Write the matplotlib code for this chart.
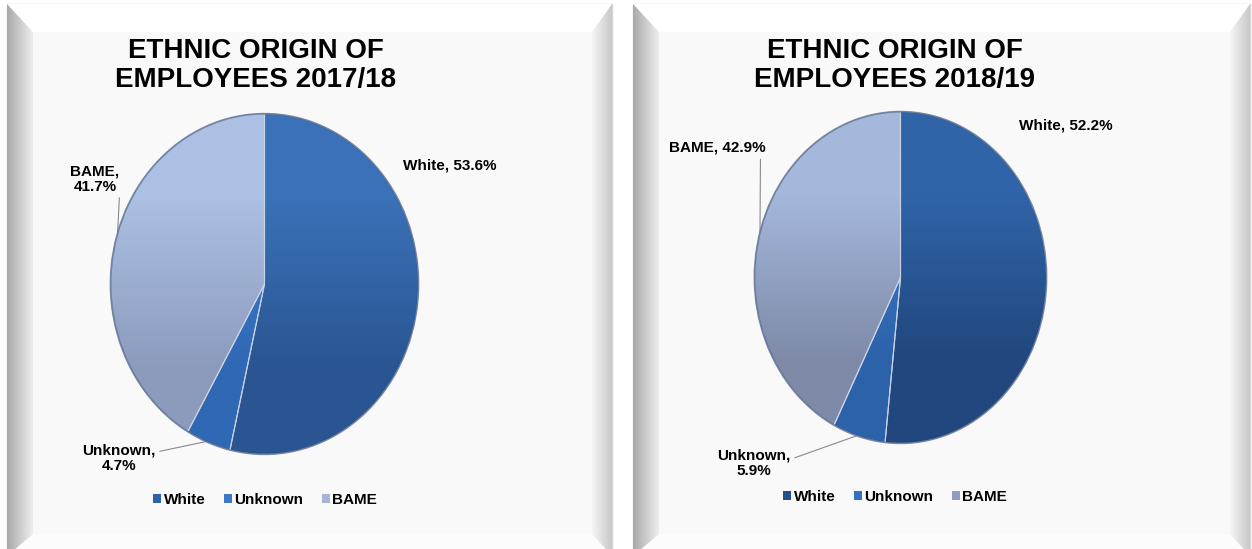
import numpy as np
import matplotlib
matplotlib.use("Agg")
import matplotlib.pyplot as plt
from matplotlib.patches import Polygon, Rectangle, Circle, Patch
from matplotlib.colors import to_rgb

plt.rcParams['font.family'] = ['Liberation Sans', 'DejaVu Sans']

# data
categories = ["White", "Unknown", "BAME"]
years = ["2017/18", "2018/19"]
share_1718 = [53.6, 4.7, 41.7]
share_1819 = [52.2, 5.9, 42.9]

# slice gradients (top colour, bottom colour) per year
grad_1718 = [("#3b71b8", "#2a5592"), ("#3f7fd0", "#2f68b4"), ("#acc0e4", "#8c9bbc")]
grad_1819 = [("#3064a8", "#21477e"), ("#3a7bca", "#2c62aa"), ("#a5b8dc", "#7e8aa8")]
legend_1718 = ["#2f63a8", "#3c7ac8", "#a5b6d8"]
legend_1819 = ["#24508e", "#3570c0", "#8d9cc0"]

W, H = 1252, 549
fig = plt.figure(figsize=(W / 100, H / 100), dpi=100)
fig.patch.set_facecolor("white")

bg = fig.add_axes([0, 0, 1, 1])
bg.set_xlim(0, W)
bg.set_ylim(H, 0)
bg.axis("off")


def gradient_fill(ax, patch, c0, c1, vertical, extent, zorder):
    # paint a linear gradient and clip it to the given patch
    n = 128
    t = np.linspace(0, 1, n)[:, None]
    a, b = np.array(to_rgb(c0)), np.array(to_rgb(c1))
    g = a * (1 - t) + b * t
    g = g[:, None, :] if vertical else g[None, :, :]
    ax.add_patch(patch)
    im = ax.imshow(g, extent=extent, origin="upper", aspect="auto",
                   interpolation="bilinear", zorder=zorder)
    im.set_clip_path(patch)
    return im


def draw_frame(ax, x0, x1, y0, y1, bl=26, bt=28, br=20, bb=22):
    ax.add_patch(Rectangle((x0, y0), x1 - x0, y1 - y0, facecolor="white",
                           edgecolor="#d6d6d6", lw=1.0, zorder=1))
    # top bevel
    ax.add_patch(Polygon([(x0, y0), (x1, y0), (x1 - br, y0 + bt), (x0 + bl, y0 + bt)],
                         closed=True, facecolor="#ffffff", edgecolor="none", zorder=2))
    # bottom bevel
    ax.add_patch(Polygon([(x0, y1), (x1, y1), (x1 - br, y1 - bb), (x0 + bl, y1 - bb)],
                         closed=True, facecolor="#fcfcfc", edgecolor="none", zorder=2))
    # left bevel, dark at the outer edge
    left = Polygon([(x0, y0), (x0 + bl, y0 + bt), (x0 + bl, y1 - bb), (x0, y1)],
                   closed=True, facecolor="none", edgecolor="none", zorder=2)
    gradient_fill(ax, left, "#a9a9a9", "#eeeeee", False, (x0, x0 + bl, y1, y0), 2)
    # right bevel, lighter
    right = Polygon([(x1, y0), (x1 - br, y0 + bt), (x1 - br, y1 - bb), (x1, y1)],
                    closed=True, facecolor="none", edgecolor="none", zorder=2)
    gradient_fill(ax, right, "#f6f6f6", "#c8c8c8", False, (x1 - br, x1, y1, y0), 2)
    # inner face
    ax.add_patch(Rectangle((x0 + bl, y0 + bt), x1 - x0 - bl - br, y1 - y0 - bt - bb,
                           facecolor="#f9f9f9", edgecolor="none", zorder=2))


draw_frame(bg, 7, 612, 4, 556)
draw_frame(bg, 633, 1250, 4, 556)


def draw_pie(rect, values, grads, legend_cols, title, title_xy, label_pos, label_rel,
             legend_xy):
    ax = fig.add_axes(rect)
    wedges, _ = ax.pie(values, startangle=90, counterclock=False, radius=1,
                       colors=[g[0] for g in grads],
                       wedgeprops=dict(edgecolor="#c9d3e6", linewidth=0.8))
    for w, (c0, c1) in zip(wedges, grads):
        w.set_facecolor("none")
        w.set_zorder(3)
        im = ax.imshow(np.array([to_rgb(c0), to_rgb(c1)])[:, None, :],
                       extent=(-1, 1, -1, 1), origin="upper", aspect="auto",
                       interpolation="bilinear", zorder=2)
        im.set_clip_path(w)
    ax.add_patch(Circle((0, 0), 1, fill=False, edgecolor="#1c355e", lw=1.3,
                        alpha=0.5, zorder=4))
    ax.set_aspect("auto")
    ax.set_xlim(-1.01, 1.01)
    ax.set_ylim(-1.01, 1.01)
    ax.axis("off")

    # data labels with leader lines to the middle of each slice
    start = 90.0
    total = float(sum(values))
    for name, v, pos, rel in zip(categories, values, label_pos, label_rel):
        mid = start - 360.0 * (v / 2) / total
        start -= 360.0 * v / total
        tx = f"{name}, {v:.1f}%" if pos[2] == 1 else f"{name},\n{v:.1f}%"
        if rel is None:
            bg.text(pos[0], pos[1], tx, ha="center", va="center",
                    fontsize=11, fontweight="bold", multialignment="center", zorder=6)
        else:
            xy = (0.99 * np.cos(np.radians(mid)), 0.99 * np.sin(np.radians(mid)))
            bg.annotate(tx, xy=xy, xycoords=ax.transData,
                        xytext=(pos[0], pos[1]), textcoords=bg.transData,
                        ha="center", va="center", fontsize=11, fontweight="bold",
                        multialignment="center", linespacing=1.1, zorder=6,
                        arrowprops=dict(arrowstyle="-", color="#8a8a8a", lw=0.8,
                                        relpos=rel, shrinkA=1, shrinkB=0))

    bg.text(title_xy[0], title_xy[1], title, ha="center", va="center",
            fontsize=20, fontweight="bold", linespacing=1.15, zorder=6)

    handles = [Patch(facecolor=c, edgecolor="none") for c in legend_cols]
    ax.legend(handles, categories, loc="center", bbox_to_anchor=legend_xy,
              bbox_transform=bg.transData, ncol=3, frameon=False,
              handlelength=0.55, handleheight=0.55, handletextpad=0.15,
              columnspacing=1.2, prop=dict(weight="bold", size=11))
    return ax


draw_pie([109 / W, 1 - 456 / H, 311 / W, 344 / H], share_1718, grad_1718, legend_1718,
         f"ETHNIC ORIGIN OF\nEMPLOYEES {years[0]}", (256, 66),
         [(450, 165, 1), (119, 458, 2), (95, 179, 2)],
         [None, (1, 0.7), (1, 0)], (265, 500))

draw_pie([753 / W, 1 - 445 / H, 295 / W, 335 / H], share_1819, grad_1819, legend_1819,
         f"ETHNIC ORIGIN OF\nEMPLOYEES {years[1]}", (895, 65),
         [(1066, 125, 1), (754, 463, 2), (717, 148, 1)],
         [None, (1, 0.63), (0.95, 0)], (895, 497))

fig.savefig("out.png", dpi=100)
